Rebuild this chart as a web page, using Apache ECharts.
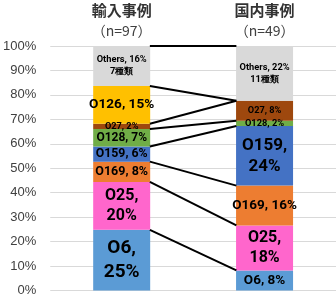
<!DOCTYPE html>
<html>
<head>
<meta charset="utf-8">
<script src="https://cdn.jsdelivr.net/npm/echarts@6/dist/echarts.min.js"></script>
<style>
  html, body { margin: 0; padding: 0; background: #fff; }
  #chart { width: 336px; height: 297px; }
</style>
</head>
<body>
<div id="chart"></div>
<script>
// data
const categories = ['輸入事例', '国内事例'];
const sampleSizes = [97, 49];
const serotypes = ['O6', 'O25', 'O169', 'O159', 'O128', 'O27', 'O126', 'Others'];
const importedPct = [24.8, 19.6, 8.3, 6.2, 7.2, 2.1, 15.4, 16.4];
const domesticPct = [8.2, 18.4, 16.3, 24.4, 2.1, 8.2, 0, 22.4];
const otherKinds = [7, 11];
const yMin = 0, yMax = 100, yStep = 10;

// styles
const colors = ['#5B9BD5', '#FF66CC', '#ED7D31', '#4472C4', '#70AD47', '#9E480E', '#FFC000', '#D9D9D9'];
const labelSizes = [[19, 13.5], [16, 16], [12.5, 13.5], [12.3, 17], [12, 9.3], [9.2, 9.2], [13.6, 9], [9.3, 9.3]];
const barPx = 57;
const gridLeft = 47, gridRight = 0;

const chart = echarts.init(document.getElementById('chart'));
const plotW = 336 - gridLeft - gridRight;
const half = barPx / 2 / (plotW / categories.length);

const series = serotypes.map((name, i) => ({
  name: name,
  type: 'bar',
  stack: 'total',
  barWidth: barPx,
  itemStyle: { color: colors[i] },
  data: [importedPct[i], domesticPct[i]].map((v, j) => {
    const fs = labelSizes[i][j];
    const pct = Math.round(v) + '%';
    let text;
    if (name === 'Others') text = name + ', ' + pct + '\n' + otherKinds[j] + '種類';
    else text = fs >= 15 ? name + ',\n' + pct : name + ', ' + pct;
    return {
      value: v,
      label: {
        show: v > 0,
        position: 'inside',
        formatter: text,
        fontSize: fs,
        lineHeight: Math.round(fs * 1.25),
        fontWeight: 'bold',
        fontFamily: 'Roboto',
        color: '#000'
      }
    };
  })
}));

// connector lines between the two stacks
let cumA = 0, cumB = 0;
serotypes.forEach((name, i) => {
  cumA += importedPct[i];
  cumB += domesticPct[i];
  series.push({
    type: 'line',
    xAxisIndex: 1,
    symbol: 'none',
    silent: true,
    lineStyle: { color: '#000', width: 2 },
    data: [[0.5 + half, cumA], [1.5 - half, cumB]],
    z: 3
  });
});

const option = {
  animation: false,
  grid: { left: gridLeft, right: gridRight, top: 46, bottom: 2 },
  xAxis: [
    {
      type: 'category',
      position: 'top',
      data: categories,
      axisLine: { show: false },
      axisTick: { show: false },
      axisLabel: {
        margin: 5,
        formatter: (v, idx) => '{t|' + v + '}\n{n|（n=' + sampleSizes[idx] + '）}',
        rich: {
          t: { fontSize: 15, fontWeight: 'bold', fontFamily: 'Noto Sans CJK JP', color: '#333', lineHeight: 22 },
          n: { fontSize: 14, fontFamily: 'Noto Sans CJK JP', color: '#404040', lineHeight: 20 }
        }
      }
    },
    { type: 'value', min: 0, max: 2, show: false }
  ],
  yAxis: {
    type: 'value',
    min: yMin,
    max: yMax,
    interval: yStep,
    axisLine: { show: false },
    axisTick: { show: false },
    axisLabel: {
      formatter: '{value}%',
      fontSize: 13,
      fontFamily: 'Liberation Sans',
      color: '#404040',
      margin: 14
    },
    splitLine: { lineStyle: { color: '#D9D9D9', width: 1 } }
  },
  series: series
};
chart.setOption(option);
</script>
</body>
</html>
